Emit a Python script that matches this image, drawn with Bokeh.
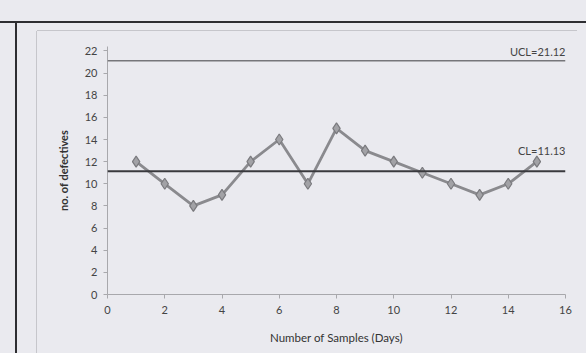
from bokeh.plotting import figure
from bokeh.models import ColumnDataSource, Span, Label, FixedTicker, Div
from bokeh.layouts import column, row
from bokeh.embed import file_html
from bokeh.resources import INLINE

# Data
samples = [1, 2, 3, 4, 5, 6, 7, 8, 9, 10, 11, 12, 13, 14, 15]
defectives = [12, 10, 8, 9, 12, 14, 10, 15, 13, 12, 11, 10, 9, 10, 12]
cl_value = 11.13
ucl_value = 21.12
x_ticks = [0, 2, 4, 6, 8, 10, 12, 14, 16]
y_ticks = [0, 2, 4, 6, 8, 10, 12, 14, 16, 18, 20, 22]

BG = "#eaeaef"
DARK = "#2e2e32"
FAINT = "#c6c6cb"
FONT = "Lato"

p = figure(width=549, height=322, output_backend="svg", toolbar_location=None,
           x_range=(0, 16), y_range=(0, 22.4),
           min_border_left=70, min_border_right=21, min_border_top=15, min_border_bottom=59)
p.background_fill_color = BG
p.border_fill_color = BG
p.outline_line_color = None
p.grid.visible = False

src = ColumnDataSource(dict(x=samples, y=defectives))
p.line("x", "y", source=src, line_color="#8a8a8e", line_width=2.8)
p.scatter("x", "y", source=src, marker="diamond", size=11,
          fill_color="#a2a2a6", line_color="#7a7a7e", line_width=1.2)

p.add_layout(Span(location=ucl_value, dimension="width", line_color="#76767a", line_width=1.5))
p.add_layout(Span(location=cl_value, dimension="width", line_color="#3a3a3e", line_width=2))

p.add_layout(Label(x=16, y=ucl_value, text=f"UCL={ucl_value:.2f}", text_align="right",
                   text_baseline="bottom", y_offset=3, text_font=FONT, text_font_size="11px",
                   text_color="#444"))
p.add_layout(Label(x=16, y=cl_value, text=f"CL={cl_value:.2f}", text_align="right",
                   text_baseline="bottom", y_offset=14, text_font=FONT, text_font_size="11px",
                   text_color="#444"))

for ax in (p.xaxis[0], p.yaxis[0]):
    ax.axis_line_color = "#a8a8ac"
    ax.major_tick_line_color = "#a8a8ac"
    ax.minor_tick_line_color = None
    ax.major_tick_out = 4
    ax.major_tick_in = 0
    ax.major_label_text_font = FONT
    ax.major_label_text_font_size = "11px"
    ax.major_label_text_color = "#444"
    ax.axis_label_text_font = FONT
    ax.axis_label_text_color = "#333"

p.xaxis.ticker = FixedTicker(ticks=x_ticks)
p.yaxis.ticker = FixedTicker(ticks=y_ticks)
p.xaxis.axis_label = "Number of Samples (Days)"
p.xaxis.axis_label_text_font_size = "11.5px"
p.xaxis.axis_label_text_font_style = "normal"
p.xaxis.major_label_standoff = 7
p.xaxis.axis_label_standoff = 14
p.yaxis.axis_label = "no. of defectives"
p.yaxis.axis_label_text_font_size = "11px"
p.yaxis.axis_label_text_font_style = "bold"
p.yaxis.major_label_standoff = 6
p.yaxis.axis_label_standoff = 12

# decorative page / chart-area borders from the scanned page
top_bar = Div(text="", width=586, height=23, margin=0,
              styles={"background-color": BG, "border-bottom": f"2px solid {DARK}",
                      "box-sizing": "border-box"})
left_bar = Div(text="", width=17, height=330, margin=0,
               styles={"background-color": BG, "border-right": f"2px solid {DARK}",
                       "box-sizing": "border-box"})
inner_top = Div(text="", width=569, height=8, margin=0,
                styles={"background-color": BG,
                        "background-image": f"linear-gradient({FAINT}, {FAINT})",
                        "background-size": "540px 1px",
                        "background-position": "20px 7px",
                        "background-repeat": "no-repeat"})
inner_left = Div(text="", width=20, height=322, margin=0,
                 styles={"background-color": BG, "border-right": f"1px solid {FAINT}",
                         "box-sizing": "border-box"})

root = column(top_bar,
              row(left_bar,
                  column(inner_top, row(inner_left, p, spacing=0), spacing=0),
                  spacing=0),
              spacing=0, styles={"background-color": BG})

open("out.html", "w").write(file_html(root, INLINE))
